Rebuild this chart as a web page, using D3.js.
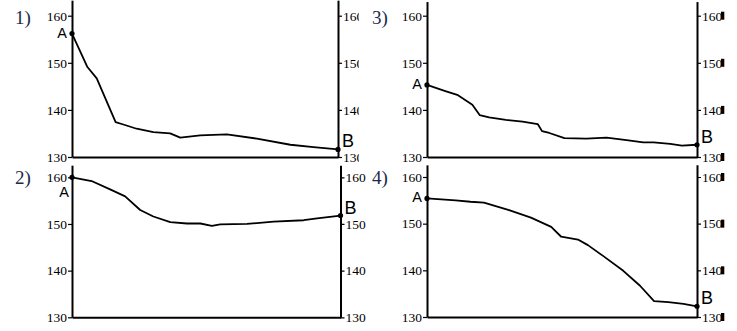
<!DOCTYPE html>
<html>
<head>
<meta charset="UTF-8">
<title>Four profiles A-B</title>
<script src="https://d3js.org/d3.v7.min.js"></script>
<style>
  body { margin: 0; background: #fff; }
  svg { display: block; }
  .ptitle { font-family: "Liberation Serif", serif; font-size: 19px; fill: #1c2a4a; }
  .pt { font-family: "Liberation Sans", Arial, sans-serif; fill: #000; }
</style>
</head>
<body>
<svg width="737" height="331"></svg>
<script>
// values: x is % of the way from A to B, y is height
const yTicks = [130, 140, 150, 160];
const names = ["1)", "2)", "3)", "4)"];

const x1 = [0, 5.8, 9.3, 16.4, 19.3, 24.3, 30.6, 36.9, 40.7, 48.2, 58.2, 69.5, 82.1, 90.8, 100];
const y1 = [156.2, 149.1, 146.7, 137.4, 136.9, 136.0, 135.3, 135.0, 134.1, 134.6, 134.8, 133.9, 132.6, 132.1, 131.6];

const x2 = [0, 7.3, 14.2, 19.8, 25.4, 30.3, 36.6, 42.8, 47.8, 52.1, 55.2, 65.2, 75.1, 86.3, 91.3, 100];
const y2 = [160, 159.2, 157.4, 155.9, 153.0, 151.6, 150.4, 150.1, 150.1, 149.6, 149.9, 150.0, 150.5, 150.8, 151.2, 151.8];

const x3 = [0, 6.8, 11.2, 16.8, 19.5, 23.0, 29.2, 35.4, 41.0, 42.6, 45.3, 50.9, 59.0, 66.5, 73.9, 80.1, 83.9, 90.1, 94.4, 100];
const y3 = [145.3, 144.0, 143.2, 141.1, 138.9, 138.4, 137.9, 137.5, 137.0, 135.5, 135.1, 134.0, 133.9, 134.1, 133.6, 133.1, 133.1, 132.8, 132.4, 132.6];

const x4 = [0, 10.6, 16.1, 21.1, 30.4, 38.5, 46.0, 49.7, 55.9, 59.6, 65.2, 72.7, 78.9, 84.1, 89.4, 95.0, 100];
const y4 = [155.4, 155.0, 154.7, 154.5, 152.9, 151.3, 149.3, 147.2, 146.6, 145.4, 143.1, 139.9, 136.7, 133.4, 133.2, 132.8, 132.3];

const seriesX = [x1, x2, x3, x4];
const seriesY = [y1, y2, y3, y4];

// panel boxes in pixels
const boxes = [
  { left: 72, right: 338, bottom: 157, top160: 15.7, topVal: 163.3, clipR: 359, block: false, lx: 15, ly: 24, aBelow: false },
  { left: 72, right: 340.5, bottom: 317.3, top160: 177.3, topVal: 162.6, clipR: 400, block: false, lx: 15, ly: 184, aBelow: true },
  { left: 427, right: 697, bottom: 157, top160: 15.7, topVal: 163, clipR: 721, block: true, lx: 372, ly: 24, aBelow: false },
  { left: 427, right: 697, bottom: 317, top160: 177, topVal: 162.6, clipR: 721, block: true, lx: 372, ly: 184, aBelow: false }
];

const svg = d3.select("svg");
const defs = svg.append("defs");

function styleAxis(sel) {
  sel.attr("font-family", "'Liberation Serif', 'Times New Roman', serif").attr("font-size", 13.5);
  sel.select(".domain").attr("stroke-width", 2);
  sel.selectAll(".tick line").attr("stroke-width", 1.2);
}

boxes.forEach((b, i) => {
  const x = d3.scaleLinear().domain([0, 100]).range([b.left, b.right]);
  const perUnit = (b.bottom - b.top160) / 30;
  const y = d3.scaleLinear().domain([130, 160]).range([b.bottom, b.top160]);
  const yTop = b.bottom - (b.topVal - 130) * perUnit;

  const g = svg.append("g");

  // clip in the right axis group's own (translated) coordinates
  defs.append("clipPath").attr("id", "rc" + i)
    .append("rect").attr("x", -3).attr("y", yTop - 20)
    .attr("width", b.clipR - b.right + 3).attr("height", b.bottom - yTop + 40);

  // left axis
  const yl = y.copy().domain([130, b.topVal]).range([b.bottom, yTop]);
  g.append("g").attr("transform", `translate(${b.left},0)`)
    .call(d3.axisLeft(yl).tickValues(yTicks).tickSize(4).tickSizeOuter(0).tickPadding(1))
    .call(styleAxis);

  // right axis
  g.append("g").attr("transform", `translate(${b.right},0)`)
    .attr("clip-path", `url(#rc${i})`)
    .call(d3.axisRight(yl).tickValues(yTicks).tickSize(4).tickSizeOuter(0).tickPadding(1))
    .call(styleAxis);
  if (b.block) {
    g.selectAll(".blk").data(yTicks).join("rect")
      .attr("x", b.clipR).attr("y", d => y(d) - 4)
      .attr("width", 3.3).attr("height", 8).attr("fill", "#000");
  }

  // bottom line
  g.append("g").attr("transform", `translate(0,${b.bottom})`)
    .call(d3.axisBottom(x).tickValues([]).tickSizeOuter(0))
    .call(styleAxis);

  // profile
  const pts = seriesX[i].map((v, k) => [v, seriesY[i][k]]);
  g.append("path").datum(pts)
    .attr("fill", "none").attr("stroke", "#000").attr("stroke-width", 1.8)
    .attr("stroke-linejoin", "round")
    .attr("d", d3.line().x(d => x(d[0])).y(d => y(d[1])));

  const ends = [pts[0], pts[pts.length - 1]];
  g.selectAll(".end").data(ends).join("circle")
    .attr("cx", d => x(d[0])).attr("cy", d => y(d[1])).attr("r", 2.6).attr("fill", "#000");

  // A and B
  const a = pts[0], e = pts[pts.length - 1];
  g.append("text").attr("class", "pt")
    .attr("x", b.aBelow ? x(a[0]) - 3 : x(a[0]) - 5)
    .attr("y", b.aBelow ? y(a[1]) + 20 : y(a[1]) + 4)
    .attr("text-anchor", "end").style("font-size", "14.5px").text("A");
  g.append("text").attr("class", "pt")
    .attr("x", x(e[0]) + 4).attr("y", y(e[1]) - 2)
    .style("font-size", "18px").text("B");

  svg.append("text").attr("class", "ptitle").attr("x", b.lx).attr("y", b.ly).text(names[i]);
});
</script>
</body>
</html>
